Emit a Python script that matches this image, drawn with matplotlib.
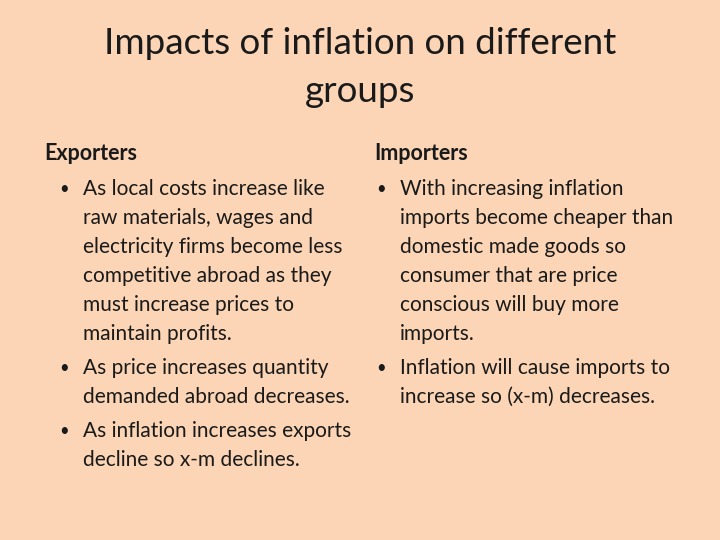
import matplotlib
matplotlib.use("Agg")
import matplotlib.pyplot as plt

title_lines = ["Impacts of inflation on different", "groups"]
headers = ["Exporters", "Importers"]
left_bullets = [
    ["As local costs increase like", "raw materials, wages and", "electricity firms become less",
     "competitive abroad as they", "must increase prices to", "maintain profits."],
    ["As price increases quantity", "demanded abroad decreases."],
    ["As inflation increases exports", "decline so x-m declines."],
]
right_bullets = [
    ["With increasing inflation", "imports become cheaper than", "domestic made goods so",
     "consumer that are price", "conscious will buy more", "imports."],
    ["Inflation will cause imports to", "increase so (x-m) decreases."],
]

W, H = 720, 540
fig = plt.figure(figsize=(7.2, 5.4), dpi=100)
fig.patch.set_facecolor("#FBD5B5")
FONT = ["Lato", "DejaVu Sans"]
col = "#1a1a1a"

def T(x, y, s, **kw):
    fig.text(x / W, 1 - y / H, s, family=FONT, color=col, va="center", **kw)

T(360, 44, title_lines[0], fontsize=26.5, ha="center")
T(360, 92, title_lines[1], fontsize=26.5, ha="center")
T(44, 154, headers[0], fontsize=15.5, weight="bold")
T(374, 154, headers[1], fontsize=15.5, weight="bold")

def column(bullets, xb, xt, y0):
    y = y0
    for b in bullets:
        T(xb, y, "•", fontsize=12)
        for line in b:
            T(xt, y, line, fontsize=15)
            y += 29
        y += 5
column(left_bullets, 59, 83, 189)
column(right_bullets, 376, 400, 189)

fig.savefig("out.png", dpi=100, facecolor=fig.get_facecolor())
